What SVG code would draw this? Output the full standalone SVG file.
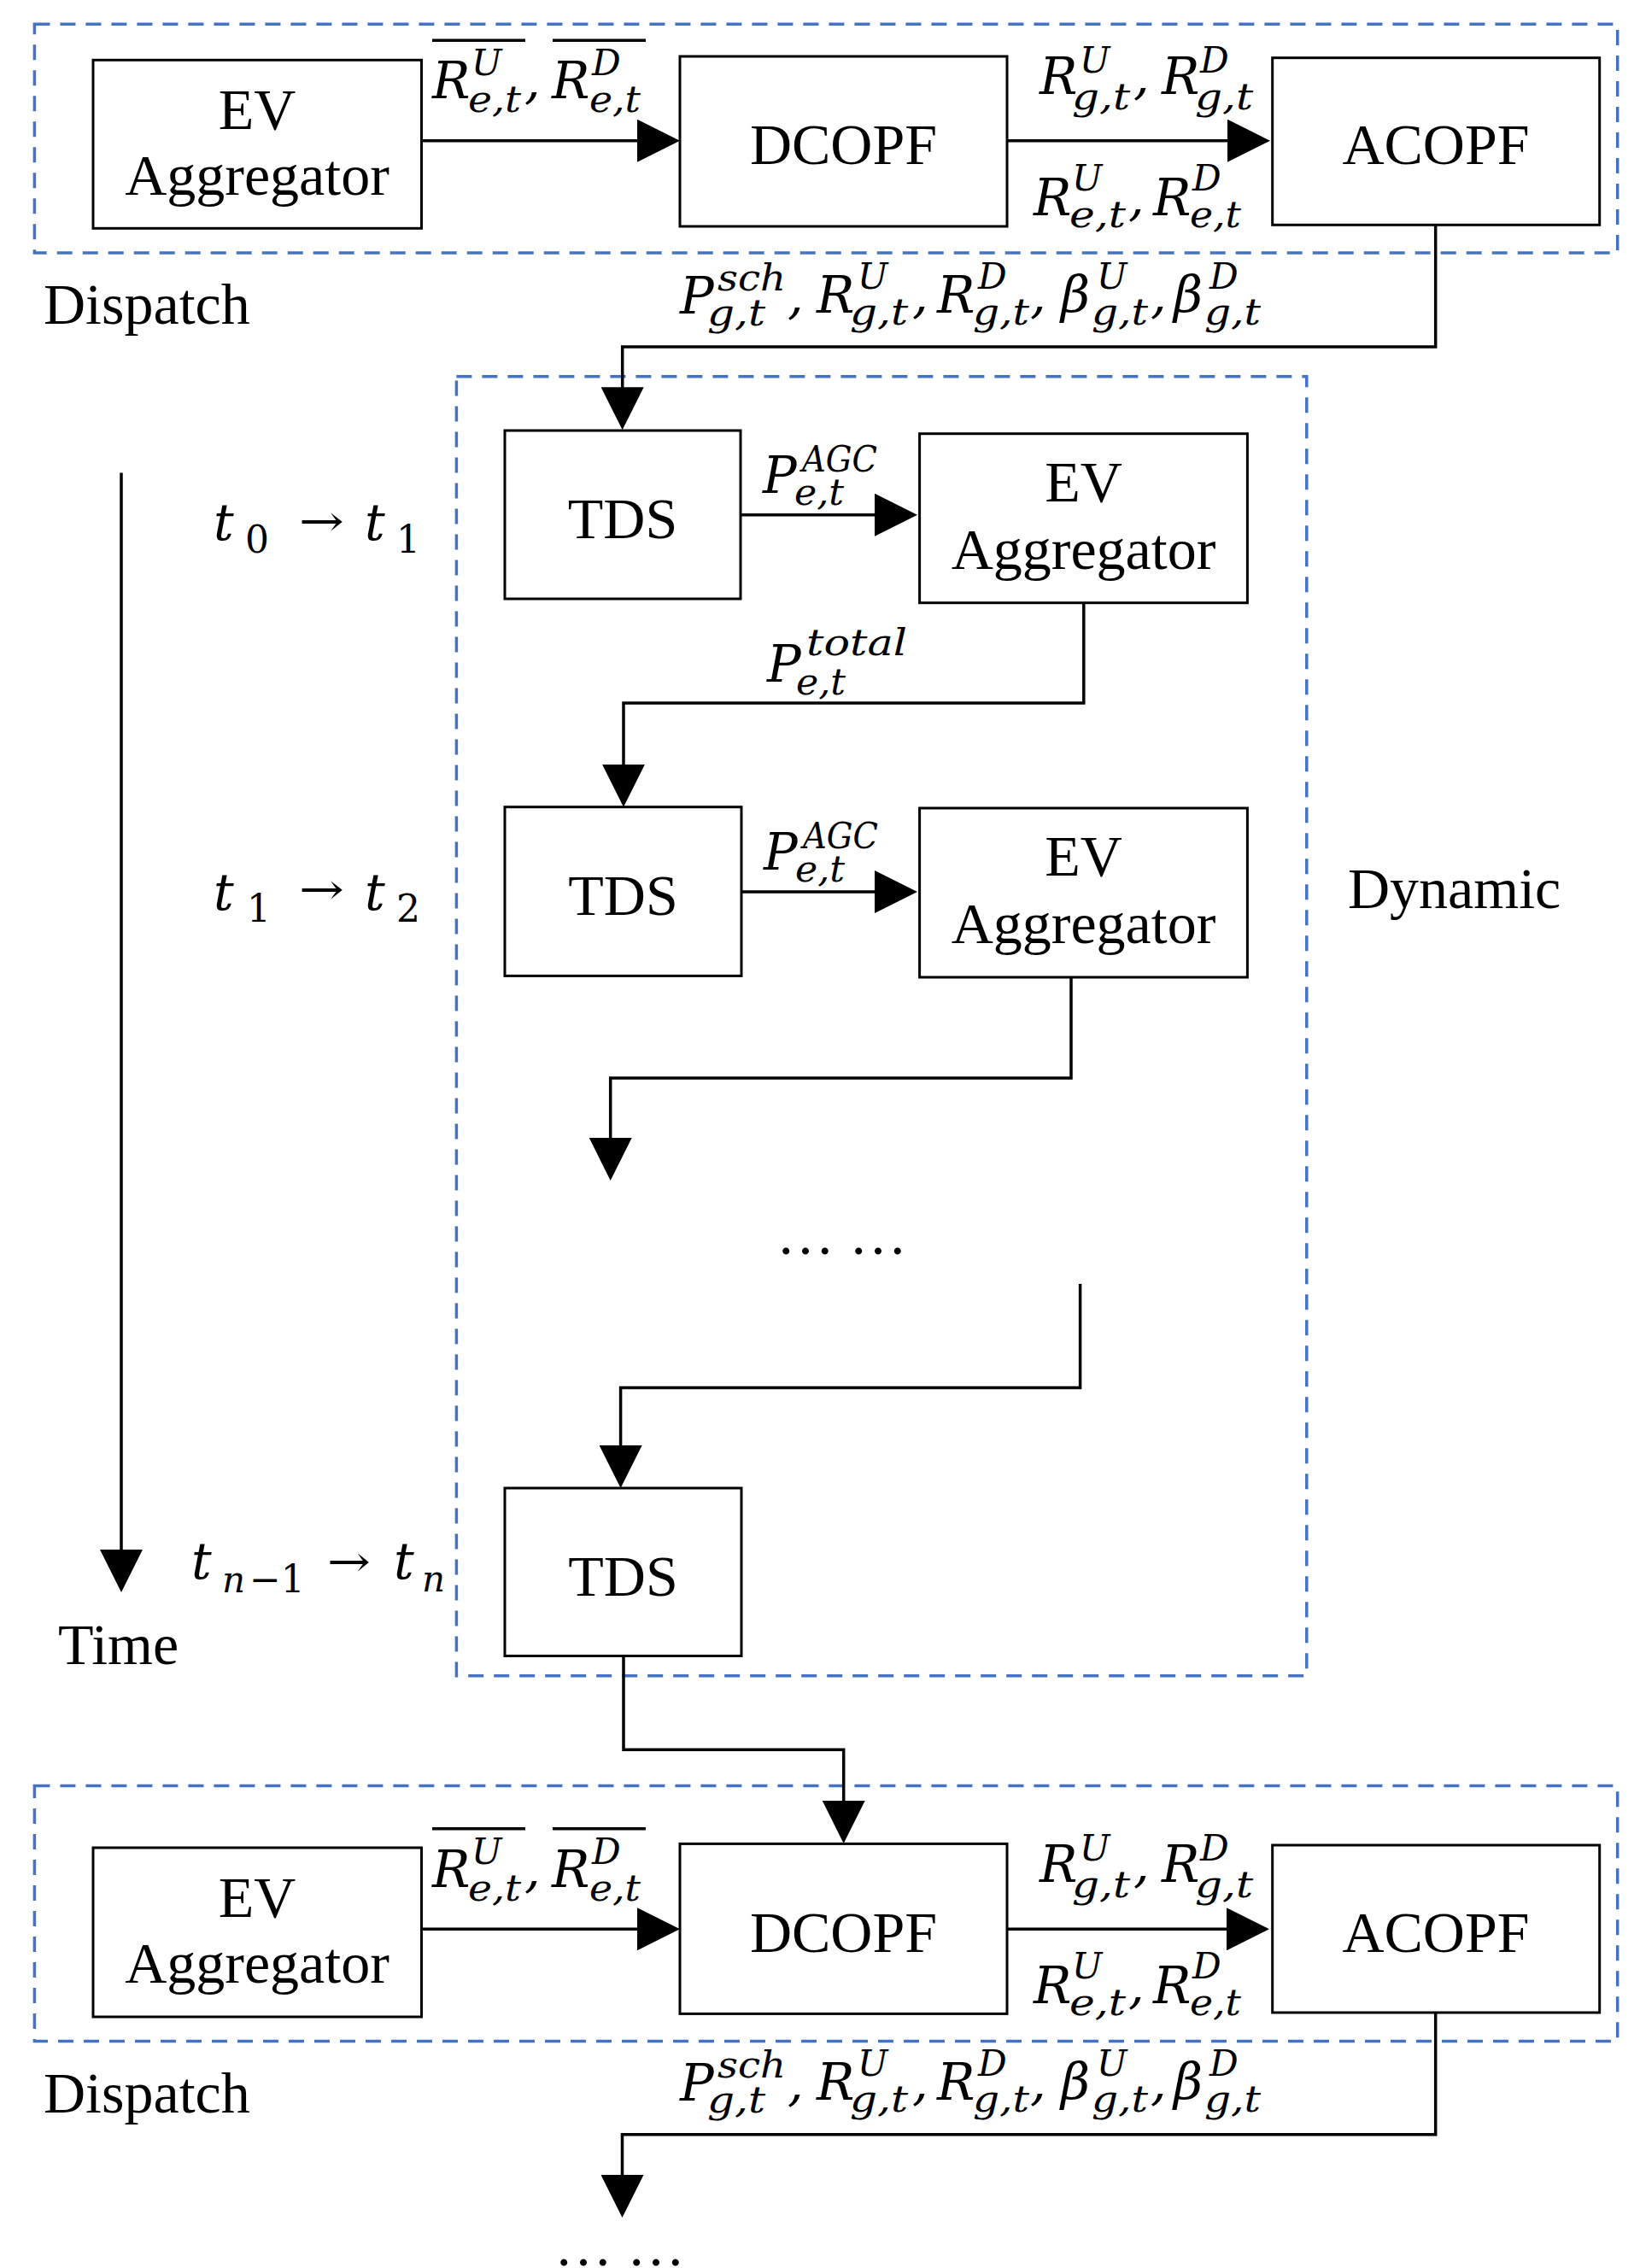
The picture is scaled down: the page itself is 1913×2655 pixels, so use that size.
<svg xmlns="http://www.w3.org/2000/svg" width="1913" height="2655" viewBox="0 0 1913 2655">
<defs>
<style>
.box{fill:#fff;stroke:#000;stroke-width:3}
.grp{fill:none;stroke:#4472C4;stroke-width:3.5;stroke-dasharray:18 12}
.conn{fill:none;stroke:#000;stroke-width:3.5}
.ovl{stroke:#000;stroke-width:3.5}
.lbl{font-family:"Liberation Serif","Times New Roman",serif;font-size:68px;fill:#000}
.ctr{text-anchor:middle}
.m{font-family:"DejaVu Serif",serif;font-style:italic;font-size:59px;fill:#000}
.s{font-size:42px}
.d{font-style:normal;font-size:44px}
.ar{font-style:normal;font-size:50px}
</style>
<marker id="ah" viewBox="0 0 50 50" markerWidth="50" markerHeight="50" refX="10" refY="25" orient="auto" markerUnits="userSpaceOnUse">
<path d="M0,0 L50,25 L0,50 Z" fill="#000"/>
</marker>
</defs>
<rect width="1913" height="2655" fill="#fff"/>

<!-- group frames -->
<g id="dispatch-top-frame">
<rect class="grp" x="40.4" y="28.3" width="1853.3" height="267.7"/>
<text class="lbl" x="51" y="379">Dispatch</text>
</g>
<g id="dynamic-frame">
<rect class="grp" x="534.4" y="440.7" width="995.4" height="1521"/>
<text class="lbl" x="1578" y="1063">Dynamic</text>
</g>
<g id="dispatch-bottom-frame">
<rect class="grp" x="40.4" y="2090.5" width="1853.3" height="299"/>
<text class="lbl" x="51" y="2472.5">Dispatch</text>
</g>

<!-- nodes: top dispatch -->
<g id="ev-agg-top">
<rect class="box" x="109" y="70.3" width="384.5" height="197"/>
<text class="lbl ctr" x="301" y="150.7">EV</text>
<text class="lbl ctr" x="301" y="228">Aggregator</text>
</g>
<g id="dcopf-top">
<rect class="box" x="796" y="66" width="383" height="199"/>
<text class="lbl ctr" x="987.5" y="192.3">DCOPF</text>
</g>
<g id="acopf-top">
<rect class="box" x="1489.7" y="67.7" width="383" height="195.6"/>
<text class="lbl ctr" x="1681" y="192.3">ACOPF</text>
</g>

<!-- nodes: dynamic -->
<g id="tds-1">
<rect class="box" x="591" y="504" width="276" height="197"/>
<text class="lbl ctr" x="729" y="630">TDS</text>
</g>
<g id="ev-agg-1">
<rect class="box" x="1076.6" y="507.7" width="383.8" height="198"/>
<text class="lbl ctr" x="1268.5" y="586.7">EV</text>
<text class="lbl ctr" x="1268.5" y="666">Aggregator</text>
</g>
<g id="tds-2">
<rect class="box" x="591" y="944.7" width="277" height="197.7"/>
<text class="lbl ctr" x="729.5" y="1070.5">TDS</text>
</g>
<g id="ev-agg-2">
<rect class="box" x="1076.6" y="946" width="383.8" height="198"/>
<text class="lbl ctr" x="1268.5" y="1025">EV</text>
<text class="lbl ctr" x="1268.5" y="1104">Aggregator</text>
</g>
<g id="ellipsis-mid">
<text class="lbl" x="909" y="1468" font-size="70">… …</text>
</g>
<g id="tds-n">
<rect class="box" x="591" y="1742" width="277" height="196.5"/>
<text class="lbl ctr" x="729.5" y="1867.5">TDS</text>
</g>

<!-- nodes: bottom dispatch -->
<g id="ev-agg-bottom">
<rect class="box" x="109" y="2163" width="384.5" height="198"/>
<text class="lbl ctr" x="301" y="2243.5">EV</text>
<text class="lbl ctr" x="301" y="2320.5">Aggregator</text>
</g>
<g id="dcopf-bottom">
<rect class="box" x="796" y="2158.4" width="383" height="199"/>
<text class="lbl ctr" x="987.5" y="2284.5">DCOPF</text>
</g>
<g id="acopf-bottom">
<rect class="box" x="1489.7" y="2160" width="383" height="196"/>
<text class="lbl ctr" x="1681" y="2284.5">ACOPF</text>
</g>
<g id="ellipsis-bottom">
<text class="lbl" x="649" y="2652" font-size="70">… …</text>
</g>

<!-- time axis -->
<g id="time-axis">
<text class="lbl" x="68" y="1948">Time</text>
<text class="m" x="250" y="632" font-size="63">t<tspan class="d" x="287" y="647">0</tspan><tspan class="ar" x="350" y="627" textLength="53" lengthAdjust="spacingAndGlyphs">→</tspan><tspan x="427" y="632">t</tspan><tspan class="d" x="464" y="647">1</tspan></text>
<text class="m" x="250" y="1065" font-size="63">t<tspan class="d" x="289" y="1079">1</tspan><tspan class="ar" x="350" y="1058" textLength="53" lengthAdjust="spacingAndGlyphs">→</tspan><tspan x="427" y="1065">t</tspan><tspan class="d" x="464" y="1079">2</tspan></text>
<text class="m" x="224" y="1848" font-size="63">t<tspan class="s" x="260" y="1864" font-size="44">n</tspan><tspan class="d" x="292" y="1864">−1</tspan><tspan class="ar" x="383" y="1845" textLength="51" lengthAdjust="spacingAndGlyphs">→</tspan><tspan x="461" y="1848">t</tspan><tspan class="s" x="494" y="1863" font-size="44">n</tspan></text>
</g>

<!-- connectors -->
<g id="connectors">
<path class="conn" d="M494,164.7 H756" marker-end="url(#ah)"/>
<path class="conn" d="M1180,164.7 H1447" marker-end="url(#ah)"/>
<path class="conn" d="M1680.7,263.3 V406 H728.7 V463.3" marker-end="url(#ah)"/>
<path class="conn" d="M867,602.7 H1034" marker-end="url(#ah)"/>
<path class="conn" d="M1268.8,705.7 V823 H730 V904.7" marker-end="url(#ah)"/>
<path class="conn" d="M868,1044 H1034" marker-end="url(#ah)"/>
<path class="conn" d="M1254,1144 V1262 H714.7 V1342" marker-end="url(#ah)"/>
<path class="conn" d="M1264.6,1503 V1624.5 H726.6 V1702" marker-end="url(#ah)"/>
<path class="conn" d="M730,1938.5 V2048.3 H987.7 V2118" marker-end="url(#ah)"/>
<path class="conn" d="M494,2258.3 H756" marker-end="url(#ah)"/>
<path class="conn" d="M1180,2258.3 H1446" marker-end="url(#ah)"/>
<path class="conn" d="M1680.7,2356 V2498.7 H728.5 V2556" marker-end="url(#ah)"/>
<path class="conn" d="M142,553.6 V1824" marker-end="url(#ah)"/>
</g>

<!-- connector labels: top dispatch -->
<g id="label-ev-dcopf-top">
<line class="ovl" x1="506" y1="47.3" x2="615" y2="47.3"/>
<line class="ovl" x1="647" y1="47.3" x2="756" y2="47.3"/>
<text class="m" x="506" y="115">R<tspan class="s" x="552" y="88">U</tspan><tspan class="s" x="548" y="131" textLength="62" lengthAdjust="spacingAndGlyphs">e,t</tspan><tspan x="614" y="115">,</tspan><tspan x="646" y="115">R</tspan><tspan class="s" x="693" y="88">D</tspan><tspan class="s" x="690" y="131" textLength="60" lengthAdjust="spacingAndGlyphs">e,t</tspan></text>
</g>
<g id="label-dcopf-acopf-top">
<text class="m" x="1217" y="110">R<tspan class="s" x="1264" y="85">U</tspan><tspan class="s" x="1255" y="128" textLength="68" lengthAdjust="spacingAndGlyphs">g,t</tspan><tspan x="1327" y="110">,</tspan><tspan x="1360" y="110">R</tspan><tspan class="s" x="1405" y="85">D</tspan><tspan class="s" x="1399" y="128" textLength="68" lengthAdjust="spacingAndGlyphs">g,t</tspan></text>
<text class="m" x="1210" y="252">R<tspan class="s" x="1255" y="223">U</tspan><tspan class="s" x="1252" y="266" textLength="66" lengthAdjust="spacingAndGlyphs">e,t</tspan><tspan x="1321" y="252">,</tspan><tspan x="1350" y="252">R</tspan><tspan class="s" x="1396" y="223">D</tspan><tspan class="s" x="1393" y="266" textLength="60" lengthAdjust="spacingAndGlyphs">e,t</tspan></text>
</g>
<g id="label-acopf-tds">
<text class="m" x="796" y="367">P<tspan class="s" x="840" y="340" textLength="80" lengthAdjust="spacingAndGlyphs">sch</tspan><tspan class="s" x="828" y="381" textLength="68" lengthAdjust="spacingAndGlyphs">g,t</tspan><tspan x="922" y="367">,</tspan><tspan x="956" y="366">R</tspan><tspan class="s" x="1004" y="338">U</tspan><tspan class="s" x="995" y="380" textLength="68" lengthAdjust="spacingAndGlyphs">g,t</tspan><tspan x="1068" y="366">,</tspan><tspan x="1097" y="366">R</tspan><tspan class="s" x="1145" y="338">D</tspan><tspan class="s" x="1139" y="380" textLength="66" lengthAdjust="spacingAndGlyphs">g,t</tspan><tspan x="1206" y="366">,</tspan><tspan x="1242" y="366">β</tspan><tspan class="s" x="1284" y="338">U</tspan><tspan class="s" x="1278" y="380" textLength="66" lengthAdjust="spacingAndGlyphs">g,t</tspan><tspan x="1347" y="366">,</tspan><tspan x="1374" y="366">β</tspan><tspan class="s" x="1416" y="338">D</tspan><tspan class="s" x="1410" y="380" textLength="66" lengthAdjust="spacingAndGlyphs">g,t</tspan></text>
</g>

<!-- connector labels: dynamic -->
<g id="label-agc-1">
<text class="m" x="893" y="577">P<tspan class="s" x="939" y="552" textLength="88" lengthAdjust="spacingAndGlyphs">AGC</tspan><tspan class="s" x="930" y="591" textLength="58" lengthAdjust="spacingAndGlyphs">e,t</tspan></text>
</g>
<g id="label-total-1">
<text class="m" x="898" y="798">P<tspan class="s" x="944" y="767" textLength="118" lengthAdjust="spacingAndGlyphs">total</tspan><tspan class="s" x="932" y="813" textLength="58" lengthAdjust="spacingAndGlyphs">e,t</tspan></text>
</g>
<g id="label-agc-2" transform="translate(1,441)">
<text class="m" x="893" y="577">P<tspan class="s" x="939" y="552" textLength="88" lengthAdjust="spacingAndGlyphs">AGC</tspan><tspan class="s" x="930" y="591" textLength="58" lengthAdjust="spacingAndGlyphs">e,t</tspan></text>
</g>

<!-- connector labels: bottom dispatch -->
<g id="label-ev-dcopf-bottom" transform="translate(0,2093.5)">
<line class="ovl" x1="506" y1="47.3" x2="615" y2="47.3"/>
<line class="ovl" x1="647" y1="47.3" x2="756" y2="47.3"/>
<text class="m" x="506" y="115">R<tspan class="s" x="552" y="88">U</tspan><tspan class="s" x="548" y="131" textLength="62" lengthAdjust="spacingAndGlyphs">e,t</tspan><tspan x="614" y="115">,</tspan><tspan x="646" y="115">R</tspan><tspan class="s" x="693" y="88">D</tspan><tspan class="s" x="690" y="131" textLength="60" lengthAdjust="spacingAndGlyphs">e,t</tspan></text>
</g>
<g id="label-dcopf-acopf-bottom" transform="translate(0,2093)">
<text class="m" x="1217" y="110">R<tspan class="s" x="1264" y="85">U</tspan><tspan class="s" x="1255" y="128" textLength="68" lengthAdjust="spacingAndGlyphs">g,t</tspan><tspan x="1327" y="110">,</tspan><tspan x="1360" y="110">R</tspan><tspan class="s" x="1405" y="85">D</tspan><tspan class="s" x="1399" y="128" textLength="68" lengthAdjust="spacingAndGlyphs">g,t</tspan></text>
<text class="m" x="1210" y="252">R<tspan class="s" x="1255" y="223">U</tspan><tspan class="s" x="1252" y="266" textLength="66" lengthAdjust="spacingAndGlyphs">e,t</tspan><tspan x="1321" y="252">,</tspan><tspan x="1350" y="252">R</tspan><tspan class="s" x="1396" y="223">D</tspan><tspan class="s" x="1393" y="266" textLength="60" lengthAdjust="spacingAndGlyphs">e,t</tspan></text>
</g>
<g id="label-acopf-next" transform="translate(0,2092)">
<text class="m" x="796" y="367">P<tspan class="s" x="840" y="340" textLength="80" lengthAdjust="spacingAndGlyphs">sch</tspan><tspan class="s" x="828" y="381" textLength="68" lengthAdjust="spacingAndGlyphs">g,t</tspan><tspan x="922" y="367">,</tspan><tspan x="956" y="366">R</tspan><tspan class="s" x="1004" y="338">U</tspan><tspan class="s" x="995" y="380" textLength="68" lengthAdjust="spacingAndGlyphs">g,t</tspan><tspan x="1068" y="366">,</tspan><tspan x="1097" y="366">R</tspan><tspan class="s" x="1145" y="338">D</tspan><tspan class="s" x="1139" y="380" textLength="66" lengthAdjust="spacingAndGlyphs">g,t</tspan><tspan x="1206" y="366">,</tspan><tspan x="1242" y="366">β</tspan><tspan class="s" x="1284" y="338">U</tspan><tspan class="s" x="1278" y="380" textLength="66" lengthAdjust="spacingAndGlyphs">g,t</tspan><tspan x="1347" y="366">,</tspan><tspan x="1374" y="366">β</tspan><tspan class="s" x="1416" y="338">D</tspan><tspan class="s" x="1410" y="380" textLength="66" lengthAdjust="spacingAndGlyphs">g,t</tspan></text>
</g>
</svg>
